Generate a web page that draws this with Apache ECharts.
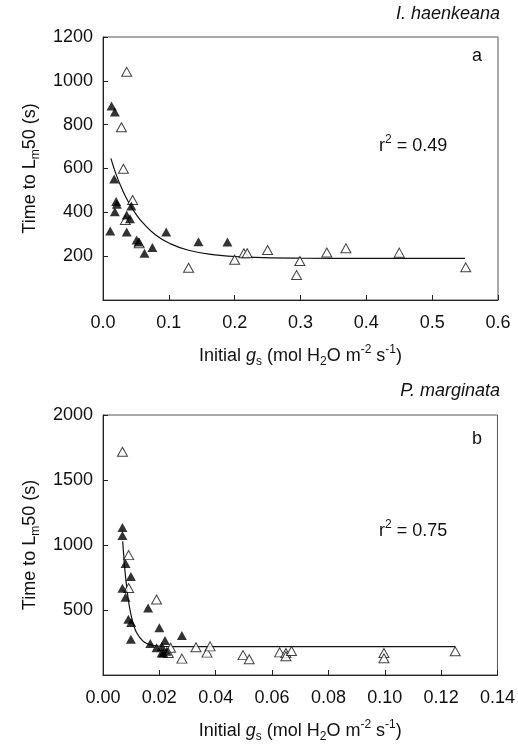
<!DOCTYPE html>
<html>
<head>
<meta charset="utf-8">
<script src="https://cdn.jsdelivr.net/npm/echarts@6/dist/echarts.min.js"></script>
<style>
  html, body { margin: 0; padding: 0; background: #fff; }
  #chart { width: 518px; height: 744px; }
</style>
</head>
<body>
<div id="chart"></div>
<script>
// panel a: I. haenkeana
const aOpenX = [0.036, 0.028, 0.031, 0.045, 0.034, 0.055, 0.130, 0.200, 0.214, 0.219, 0.250, 0.299, 0.294, 0.340, 0.369, 0.450, 0.551]
const aOpenY = [1041, 788, 599, 456, 365, 259, 147, 184, 213, 213, 228, 178, 114, 217, 236, 216, 149]
const aFillX = [0.013, 0.018, 0.017, 0.020, 0.021, 0.018, 0.011, 0.043, 0.036, 0.041, 0.036, 0.051, 0.054, 0.063, 0.075, 0.096, 0.145, 0.189]
const aFillY = [885, 858, 552, 449, 437, 403, 315, 429, 388, 371, 310, 274, 265, 213, 239, 310, 266, 265]
const aFitX = [0.012, 0.02, 0.03, 0.04, 0.05, 0.06, 0.08, 0.10, 0.13, 0.17, 0.22, 0.30, 0.40, 0.55]
const aFitY = [646, 572, 499, 440, 392, 354, 297, 260, 227, 206, 196, 191, 190, 190]

// panel b: P. marginata
const bOpenX = [0.0069, 0.0091, 0.0091, 0.019, 0.024, 0.0232, 0.028, 0.033, 0.0369, 0.038, 0.0497, 0.0519, 0.0627, 0.0649, 0.0649, 0.0669, 0.0997, 0.0997, 0.125]
const bOpenY = [1717, 922, 669, 581, 210, 169, 126, 213, 172, 220, 153, 121, 174, 169, 144, 184, 169, 129, 182]
const bFillX = [0.0069, 0.0069, 0.008, 0.0099, 0.0069, 0.008, 0.009, 0.010, 0.0099, 0.016, 0.020, 0.0168, 0.019, 0.0209, 0.022, 0.0214, 0.0208, 0.0226, 0.028]
const bFillY = [1134, 1073, 858, 758, 667, 598, 429, 404, 275, 515, 364, 242, 209, 220, 265, 169, 169, 182, 303]
const bFitX = [0.007, 0.0075, 0.008, 0.009, 0.010, 0.011, 0.012, 0.014, 0.016, 0.018, 0.021, 0.025, 0.04, 0.125]
const bFitY = [1028, 878, 757, 576, 456, 376, 323, 264, 238, 227, 221, 219, 218, 218]

const aYLabels = ['200', '400', '600', '800', '1000', '1200']
const bYLabels = ['500', '1000', '1500', '2000']

const FONT = '"Liberation Sans", Arial, sans-serif'
const zip = (xs, ys) => xs.map((x, i) => [x, ys[i]])

const chart = echarts.init(document.getElementById('chart'), null, { renderer: 'canvas' })

const axisLineStyle = { show: true, lineStyle: { color: '#222', width: 1 } }
const tickStyle = { show: true, inside: true, length: 5, lineStyle: { color: '#222' } }
const labelStyle = { color: '#111', fontSize: 18, fontFamily: FONT }

const yName = {
  name: '{t|Time to L}{s|m}{t|50 (s)}',
  nameLocation: 'middle',
  nameGap: 58,
  nameRotate: 90,
  nameTextStyle: {
    fontFamily: FONT,
    rich: {
      t: { fontSize: 18, fontFamily: FONT, color: '#111', lineHeight: 24 },
      s: { fontSize: 12, fontFamily: FONT, color: '#111', lineHeight: 12, verticalAlign: 'bottom' }
    }
  }
}

const xName = {
  name: '{t|Initial }{i|g}{s|s}{t| (mol H}{s|2}{t|O m}{p|-2}{t| s}{p|-1}{t|)}',
  nameLocation: 'middle',
  nameGap: 44,
  nameTextStyle: {
    fontFamily: FONT,
    rich: {
      t: { fontSize: 18, fontFamily: FONT, color: '#111', lineHeight: 24 },
      i: { fontSize: 18, fontFamily: FONT, color: '#111', lineHeight: 24, fontStyle: 'italic' },
      s: { fontSize: 12, fontFamily: FONT, color: '#111', lineHeight: 12, verticalAlign: 'bottom' },
      p: { fontSize: 12, fontFamily: FONT, color: '#111', lineHeight: 12, verticalAlign: 'top' }
    }
  }
}

const openSym = { color: '#fff', borderColor: '#111', borderWidth: 1 }
const fillSym = { color: '#000' }

function scatter(idx, data, style) {
  return {
    type: 'scatter', xAxisIndex: idx, yAxisIndex: idx, data,
    symbol: 'triangle', symbolSize: [10, 9], itemStyle: style, z: 3
  }
}
function fit(idx, data) {
  return {
    type: 'line', xAxisIndex: idx, yAxisIndex: idx, data,
    smooth: true, showSymbol: false, symbol: 'none',
    lineStyle: { color: '#111', width: 1.2 }, z: 2
  }
}

const option = {
  animation: false,
  backgroundColor: '#fff',
  textStyle: { fontFamily: FONT },
  grid: [
    { left: 103, top: 37, width: 395, height: 263, show: true, borderColor: '#555', borderWidth: 1 },
    { left: 103, top: 415, width: 395, height: 264, show: true, borderColor: '#555', borderWidth: 1 }
  ],
  xAxis: [
    {
      gridIndex: 0, type: 'value', min: 0, max: 0.6, interval: 0.1,
      axisLine: axisLineStyle, axisTick: tickStyle, splitLine: { show: false },
      axisLabel: Object.assign({}, labelStyle, { margin: 14, formatter: (v) => v.toFixed(1) }),
      ...xName
    },
    {
      gridIndex: 1, type: 'value', min: 0, max: 0.14, interval: 0.02,
      axisLine: axisLineStyle, axisTick: tickStyle, splitLine: { show: false },
      axisLabel: Object.assign({}, labelStyle, { margin: 14, formatter: (v) => v.toFixed(2) }),
      ...xName
    }
  ],
  yAxis: [
    {
      gridIndex: 0, type: 'value', min: 0, max: 1200, interval: 200,
      axisLine: axisLineStyle, axisTick: tickStyle, splitLine: { show: false },
      axisLabel: Object.assign({}, labelStyle, {
        margin: 10,
        formatter: (v) => (aYLabels.includes(String(v)) ? String(v) : '')
      }),
      ...yName
    },
    {
      gridIndex: 1, type: 'value', min: 0, max: 2000, interval: 500,
      axisLine: axisLineStyle, axisTick: tickStyle, splitLine: { show: false },
      axisLabel: Object.assign({}, labelStyle, {
        margin: 10,
        formatter: (v) => (bYLabels.includes(String(v)) ? String(v) : '')
      }),
      ...yName
    }
  ],
  graphic: [
    { type: 'text', right: 18, top: 5, style: { text: 'I. haenkeana', fontSize: 18, fontStyle: 'italic', fontFamily: FONT, fill: '#111' } },
    { type: 'text', left: 472, top: 47, style: { text: 'a', fontSize: 18, fontFamily: FONT, fill: '#111' } },
    {
      type: 'text', left: 379, top: 134,
      style: {
        text: '{t|r}{p|2}{t| = 0.49}', fontFamily: FONT,
        rich: {
          t: { fontSize: 18, fontFamily: FONT, fill: '#111', lineHeight: 24 },
          p: { fontSize: 12, fontFamily: FONT, fill: '#111', lineHeight: 12, verticalAlign: 'top' }
        }
      }
    },
    { type: 'text', right: 18, top: 382, style: { text: 'P. marginata', fontSize: 18, fontStyle: 'italic', fontFamily: FONT, fill: '#111' } },
    { type: 'text', left: 472, top: 430, style: { text: 'b', fontSize: 18, fontFamily: FONT, fill: '#111' } },
    {
      type: 'text', left: 379, top: 519,
      style: {
        text: '{t|r}{p|2}{t| = 0.75}', fontFamily: FONT,
        rich: {
          t: { fontSize: 18, fontFamily: FONT, fill: '#111', lineHeight: 24 },
          p: { fontSize: 12, fontFamily: FONT, fill: '#111', lineHeight: 12, verticalAlign: 'top' }
        }
      }
    }
  ],
  series: [
    fit(0, zip(aFitX, aFitY)),
    scatter(0, zip(aOpenX, aOpenY), openSym),
    scatter(0, zip(aFillX, aFillY), fillSym),
    fit(1, zip(bFitX, bFitY)),
    scatter(1, zip(bOpenX, bOpenY), openSym),
    scatter(1, zip(bFillX, bFillY), fillSym)
  ]
}

chart.setOption(option)
window.addEventListener('resize', () => chart.resize())
</script>
</body>
</html>
